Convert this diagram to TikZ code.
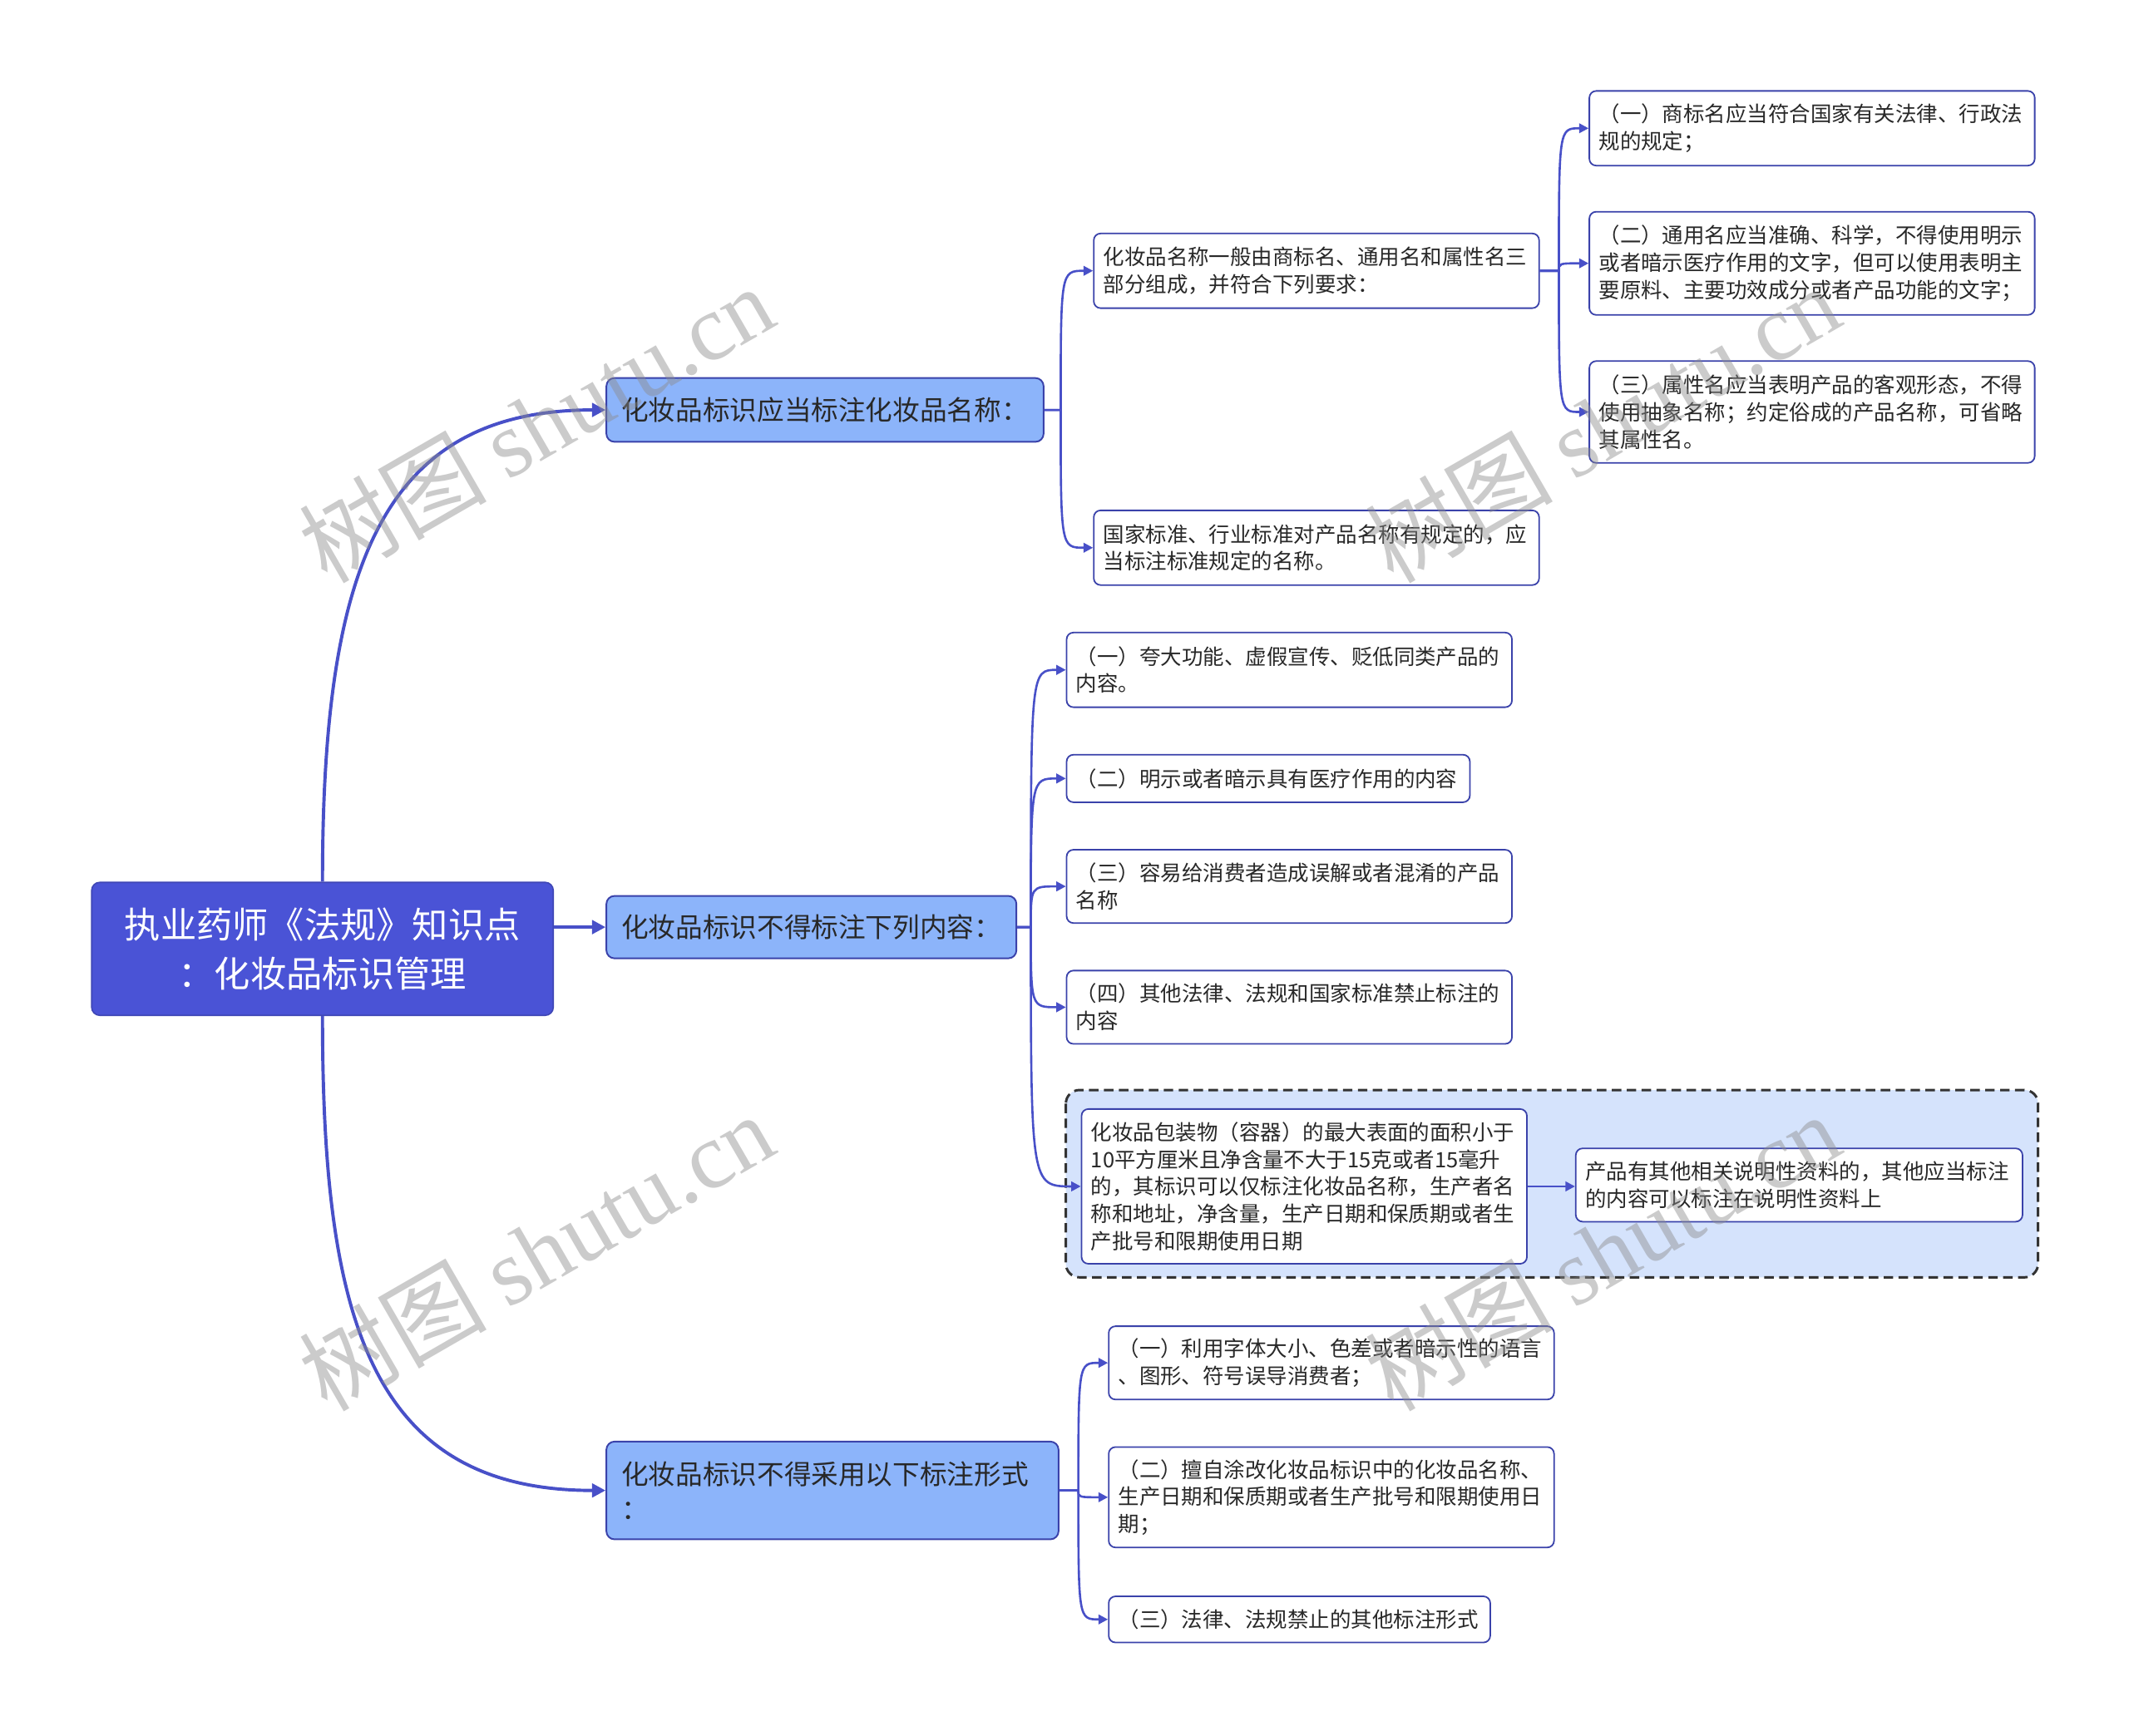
\documentclass[tikz,border=0pt]{standalone}
\usepackage{fontspec}
\setmainfont{Noto Sans CJK SC}
\newfontfamily\wmlatin{Liberation Serif}
\usetikzlibrary{arrows.meta}
\definecolor{rootblue}{RGB}{74,83,214}
\definecolor{subblue}{RGB}{140,180,250}
\definecolor{edgeblue}{RGB}{72,80,200}
\definecolor{boxline}{RGB}{58,66,170}
\definecolor{grpfill}{RGB}{213,227,252}
\definecolor{txt}{RGB}{40,40,40}
\tikzset{
  rootnode/.style={anchor=west, fill=rootblue, draw=rootblue!85!black, line width=1pt,
    rounded corners=6pt, text=white, minimum width=340pt, minimum height=98pt,
    text width=310pt, align=center, font=\fontsize{26.5}{36}\selectfont},
  subnode/.style={anchor=west, fill=subblue, draw=boxline, line width=1.2pt,
    rounded corners=6pt, inner xsep=11pt, inner ysep=4pt, align=left, text=txt,
    font=\fontsize{20}{26}\selectfont},
  leafnode/.style={anchor=west, fill=white, draw=boxline, line width=1.1pt,
    rounded corners=5pt, inner xsep=7pt, inner ysep=3pt, align=left, text=txt,
    font=\fontsize{15.6}{20}\selectfont},
  conn/.style={draw=edgeblue, line width=1.6pt, -{Triangle[length=7pt,width=7pt]}},
  mainconn/.style={draw=edgeblue, line width=2.4pt, -{Triangle[length=10pt,width=10pt]}},
  grpbox/.style={draw=black!80, fill=grpfill, dash pattern=on 7pt off 4pt,
    line width=1.8pt, rounded corners=10pt},
  wmark/.style={text=black!45, opacity=.45, rotate=30, font=\fontsize{69}{69}\selectfont}
}
\begin{document}
\begin{tikzpicture}[x=1pt,y=-1pt]
	\useasboundingbox (0,0) rectangle (1568,1278.3);
	\fill[white] (0,0) rectangle (1568,1278.3);
	\draw[grpbox] (785,803) rectangle (1501,941);
	\node[rootnode] (root) at (67,699) {执业药师《法规》知识点\\：化妆品标识管理};
	\node[subnode, text width=300pt, minimum height=47pt] (b1) at (446,302) {化妆品标识应当标注化妆品名称：};
	\node[subnode, text width=280pt, minimum height=46pt] (b2) at (446,683) {化妆品标识不得标注下列内容：};
	\node[subnode, text width=311pt, minimum height=72pt] (b3) at (446,1098) {化妆品标识不得采用以下标注形式\\：};
	\foreach \N/\X/\Y/\W/\H/\T in {
		ca/805/199.5/314/55/{化妆品名称一般由商标名、通用名和属性名三\\部分组成，并符合下列要求：},
		cb/805/403.5/314/55/{国家标准、行业标准对产品名称有规定的，应\\当标注标准规定的名称。},
		ga/1170/94.5/314/55/{（一）商标名应当符合国家有关法律、行政法\\规的规定；},
		gb/1170/194/314/76/{（二）通用名应当准确、科学，不得使用明示\\或者暗示医疗作用的文字，但可以使用表明主\\要原料、主要功效成分或者产品功能的文字；},
		gc/1170/303.5/314/75/{（三）属性名应当表明产品的客观形态，不得\\使用抽象名称；约定俗成的产品名称，可省略\\其属性名。},
		da/785/493.5/314/55/{（一）夸大功能、虚假宣传、贬低同类产品的\\内容。},
		db/785/573.5/283/35/{（二）明示或者暗示具有医疗作用的内容},
		dc/785/653/314/54/{（三）容易给消费者造成误解或者混淆的产品\\名称},
		dd/785/742/314/54/{（四）其他法律、法规和国家标准禁止标注的\\内容},
		de/796/874/314/114/{化妆品包装物（容器）的最大表面的面积小于\\10平方厘米且净含量不大于15克或者15毫升\\的，其标识可以仅标注化妆品名称，生产者名\\称和地址，净含量，生产日期和保质期或者生\\产批号和限期使用日期},
		df/1160/873/315/54/{产品有其他相关说明性资料的，其他应当标注\\的内容可以标注在说明性资料上},
		ea/816/1004/314/54/{（一）利用字体大小、色差或者暗示性的语言\\、图形、符号误导消费者；},
		eb/816/1103/314/74/{（二）擅自涂改化妆品标识中的化妆品名称、\\生产日期和保质期或者生产批号和限期使用日\\期；},
		ec/816/1193/267/34/{（三）法律、法规禁止的其他标注形式}}
	{\node[leafnode, text width=\W pt, minimum height=\H pt] (\N) at (\X,\Y) {\T};}
	% root to main branches
	\draw[mainconn] (root.north) .. controls +(0,-230) and +(-166,0) .. (b1.west);
	\draw[mainconn] (b2.west -| root.east) -- (b2.west);
	\draw[mainconn] (root.south) .. controls +(0,220) and +(-175,0) .. (b3.west);
	% brackets
	\coordinate (j1) at ([xshift=12pt]b1.east);
	\coordinate (j2) at ([xshift=10pt]b2.east);
	\coordinate (j3) at ([xshift=14pt]b3.east);
	\coordinate (ja) at ([xshift=14pt]ca.east);
	\foreach \P/\J/\L in {b1/j1/{ca,cb}, ca/ja/{ga,gb,gc}, b2/j2/{da,db,dc,dd,de}, b3/j3/{ea,eb,ec}}
		\foreach \C in \L
			\draw[conn] (\P.east) -- (\J) .. controls (\J |- \C.west) and (\J |- \C.west) .. (\C.west);
	\draw[conn] (de.east) -- (de.east -| df.west);
	% watermarks
	\foreach \X/\Y [count=\Z] in {395/312, 395/922, 1180/312, 1180/922}
		\node[wmark] (wm\Z) at (\X,\Y) {树图 {\wmlatin shutu.cn}};
\end{tikzpicture}
\end{document}
